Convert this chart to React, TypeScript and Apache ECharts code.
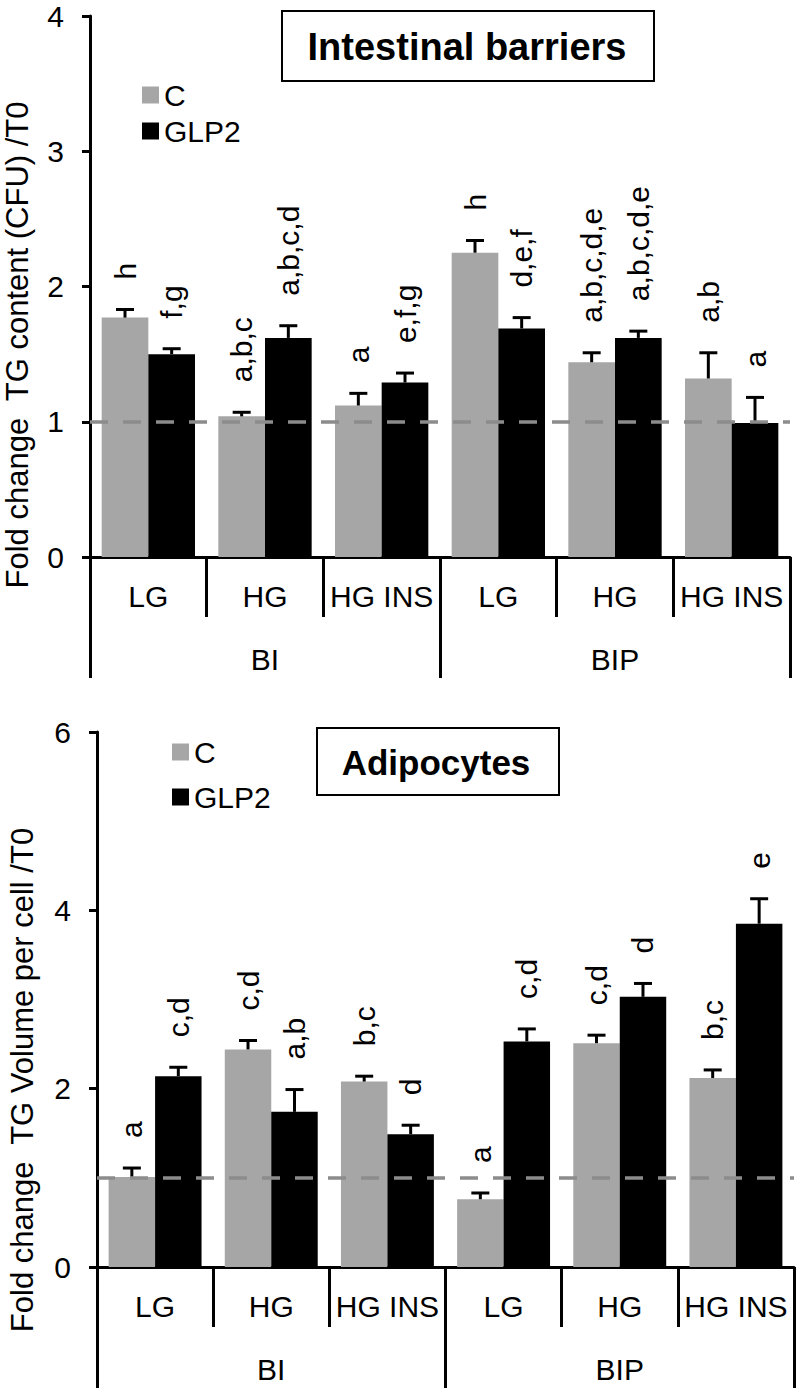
import React, { useEffect, useRef } from 'react';
import * as echarts from 'echarts';

const subCategories = ['LG', 'HG', 'HG INS', 'LG', 'HG', 'HG INS'];
const groupCategories = ['BI', 'BIP'];
const seriesNames = ['C', 'GLP2'];

const topTitle = 'Intestinal barriers';
const topYName = 'Fold change  TG content (CFU) /T0';
const topC = [1.77, 1.04, 1.12, 2.25, 1.44, 1.32];
const topCErr = [0.06, 0.03, 0.09, 0.09, 0.07, 0.19];
const topG = [1.5, 1.62, 1.29, 1.69, 1.62, 0.99];
const topGErr = [0.04, 0.09, 0.07, 0.08, 0.05, 0.19];
const topCLabels = ['h', 'a,b,c', 'a', 'h', 'a,b,c,d,e', 'a,b'];
const topGLabels = ['f,g', 'a,b,c,d', 'e,f,g', 'd,e,f', 'a,b,c,d,e', 'a'];
const topYMax = 4;
const topYInterval = 1;

const botTitle = 'Adipocytes';
const botYName = 'Fold change  TG Volume per cell /T0';
const botC = [1.01, 2.44, 2.08, 0.76, 2.51, 2.12];
const botCErr = [0.1, 0.1, 0.06, 0.07, 0.09, 0.09];
const botG = [2.14, 1.74, 1.49, 2.53, 3.03, 3.85];
const botGErr = [0.1, 0.25, 0.1, 0.14, 0.15, 0.28];
const botCLabels = ['a', 'c,d', 'b,c', 'a', 'c,d', 'b,c'];
const botGLabels = ['c,d', 'a,b', 'd', 'c,d', 'd', 'e'];
const botYMax = 6;
const botYInterval = 2;

const referenceLevel = 1;

const FONT = '"Liberation Sans", Arial, Helvetica, sans-serif';
const GRAY = '#a6a6a6';
const BLACK = '#000000';

function errSeries(
  xi: number,
  yi: number,
  vals: number[],
  errs: number[],
  labels: string[],
  side: number,
  withRef: boolean
): any {
  const s: any = {
    type: 'custom',
    name: 'err' + xi + '_' + side,
    xAxisIndex: xi,
    yAxisIndex: yi,
    z: 5,
    data: vals.map((v, i) => [i, v, errs[i]]),
    encode: { x: 0, y: 1 },
    renderItem: (params: any, api: any) => {
      const i = api.value(0);
      const v = api.value(1);
      const e = api.value(2);
      const bw = api.size([1, 0])[0];
      const base = api.coord([i, v]);
      const top = api.coord([i, v + e]);
      const x = base[0] + side * bw * 0.2;
      return {
        type: 'group',
        children: [
          {
            type: 'line',
            shape: { x1: x, y1: base[1], x2: x, y2: top[1] },
            style: { stroke: BLACK, lineWidth: 3 },
          },
          {
            type: 'line',
            shape: { x1: x - 9, y1: top[1], x2: x + 9, y2: top[1] },
            style: { stroke: BLACK, lineWidth: 3 },
          },
          {
            type: 'text',
            x: x,
            y: top[1] - 30,
            rotation: Math.PI / 2,
            style: {
              text: labels[params.dataIndex],
              fontSize: 30,
              fontFamily: FONT,
              fill: BLACK,
              align: 'left',
              verticalAlign: 'middle',
            },
          },
        ],
      };
    },
  };
  if (withRef) {
    s.markLine = {
      silent: true,
      symbol: 'none',
      z: 10,
      label: { show: false },
      lineStyle: { type: [18, 15], color: '#8c8c8c', width: 3.5 },
      data: [{ yAxis: referenceLevel }],
    };
  }
  return s;
}

function mainXAxis(gridIndex: number): any {
  return {
    type: 'category',
    gridIndex,
    position: 'bottom',
    data: subCategories,
    axisLine: { show: true, lineStyle: { color: BLACK, width: 3 } },
    axisTick: { show: true, length: 60, interval: 0, lineStyle: { color: BLACK, width: 3 } },
    axisLabel: { interval: 0, margin: 24, fontSize: 30, color: BLACK, fontFamily: FONT },
    splitLine: { show: false },
  };
}

function groupXAxis(gridIndex: number, tickLen: number): any {
  return {
    type: 'category',
    gridIndex,
    position: 'bottom',
    data: groupCategories,
    axisLine: { show: false },
    axisTick: { show: true, length: tickLen, interval: 0, lineStyle: { color: BLACK, width: 3 } },
    axisLabel: { interval: 0, margin: 87, fontSize: 30, color: BLACK, fontFamily: FONT },
    splitLine: { show: false },
  };
}

function valueYAxis(gridIndex: number, max: number, interval: number): any {
  return {
    type: 'value',
    gridIndex,
    min: 0,
    max,
    interval,
    axisLine: { show: true, lineStyle: { color: BLACK, width: 3 } },
    axisTick: { show: true, length: 8, lineStyle: { color: BLACK, width: 3 } },
    axisLabel: { margin: 26, fontSize: 30, color: BLACK, fontFamily: FONT },
    splitLine: { show: false },
  };
}

function legend(left: number, top: number, gap: number): any {
  return {
    orient: 'vertical',
    left,
    top,
    itemWidth: 17,
    itemHeight: 17,
    itemGap: gap,
    icon: 'rect',
    data: seriesNames,
    textStyle: { fontSize: 30, color: BLACK, fontFamily: FONT },
    selectedMode: false,
  };
}

export default function App() {
  const ref = useRef<HTMLDivElement>(null);
  useEffect(() => {
    if (!ref.current) return;
    const chart = echarts.init(ref.current, undefined, { renderer: 'svg' });
    const option: any = {
      animation: false,
      backgroundColor: '#ffffff',
      textStyle: { fontFamily: FONT },
      grid: [
        { left: 90, top: 16, width: 700, height: 541, containLabel: false },
        { left: 97, top: 732, width: 697, height: 535, containLabel: false },
      ],
      legend: [legend(137, 75, 6), legend(167, 732, 15)],
      xAxis: [mainXAxis(0), groupXAxis(0, 121), mainXAxis(1), groupXAxis(1, 121)],
      yAxis: [valueYAxis(0, topYMax, topYInterval), valueYAxis(1, botYMax, botYInterval)],
      series: [
        {
          type: 'bar', name: seriesNames[0], xAxisIndex: 0, yAxisIndex: 0, data: topC,
          itemStyle: { color: GRAY }, barGap: '0%', barCategoryGap: '20%',
        },
        {
          type: 'bar', name: seriesNames[1], xAxisIndex: 0, yAxisIndex: 0, data: topG,
          itemStyle: { color: BLACK }, barGap: '0%', barCategoryGap: '20%',
        },
        {
          type: 'bar', name: seriesNames[0], xAxisIndex: 2, yAxisIndex: 1, data: botC,
          itemStyle: { color: GRAY }, barGap: '0%', barCategoryGap: '20%',
        },
        {
          type: 'bar', name: seriesNames[1], xAxisIndex: 2, yAxisIndex: 1, data: botG,
          itemStyle: { color: BLACK }, barGap: '0%', barCategoryGap: '20%',
        },
        errSeries(0, 0, topC, topCErr, topCLabels, -1, false),
        errSeries(0, 0, topG, topGErr, topGLabels, 1, true),
        errSeries(2, 1, botC, botCErr, botCLabels, -1, false),
        errSeries(2, 1, botG, botGErr, botGLabels, 1, true),
      ],
      graphic: [
        {
          type: 'rect', shape: { x: 282, y: 11, width: 372, height: 70 },
          style: { fill: '#ffffff', stroke: BLACK, lineWidth: 2 }, z: 20,
        },
        {
          type: 'text', x: 467, y: 47, z: 21,
          style: {
            text: topTitle, fontSize: 38, fontWeight: 'bold', fontFamily: FONT, fill: BLACK,
            align: 'center', verticalAlign: 'middle', textAlign: 'center', textVerticalAlign: 'middle',
          },
        },
        {
          type: 'rect', shape: { x: 317, y: 728, width: 242, height: 67 },
          style: { fill: '#ffffff', stroke: BLACK, lineWidth: 2 }, z: 20,
        },
        {
          type: 'text', x: 436, y: 762, z: 21,
          style: {
            text: botTitle, fontSize: 35, fontWeight: 'bold', fontFamily: FONT, fill: BLACK,
            align: 'center', verticalAlign: 'middle', textAlign: 'center', textVerticalAlign: 'middle',
          },
        },
        {
          type: 'text', x: 17, y: 345, rotation: Math.PI / 2,
          style: {
            text: topYName, fontSize: 31, fontFamily: FONT, fill: BLACK,
            align: 'center', verticalAlign: 'middle', textAlign: 'center', textVerticalAlign: 'middle',
          },
        },
        {
          type: 'text', x: 22, y: 1080, rotation: Math.PI / 2,
          style: {
            text: botYName, fontSize: 31, fontFamily: FONT, fill: BLACK,
            align: 'center', verticalAlign: 'middle', textAlign: 'center', textVerticalAlign: 'middle',
          },
        },
      ],
    };
    chart.setOption(option);
    return () => {
      chart.dispose();
    };
  }, []);
  return (
    <div
      ref={ref}
      style={{ position: 'absolute', left: 0, top: 0, width: 800, height: 1392, background: '#fff' }}
    />
  );
}
